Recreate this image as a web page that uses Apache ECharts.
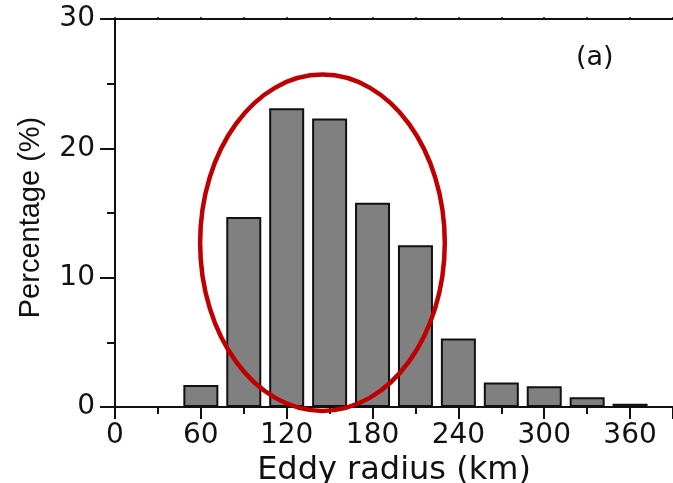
<!DOCTYPE html>
<html>
<head>
<meta charset="utf-8">
<script src="https://cdn.jsdelivr.net/npm/echarts@6/dist/echarts.min.js"></script>
<style>
html,body{margin:0;padding:0;background:#fff;}
#chart{width:673px;height:483px;}
</style>
</head>
<body>
<div id="chart"></div>
<script>
// Bin centres (km) and percentages
var radiusBins = [60, 90, 120, 150, 180, 210, 240, 270, 300, 330, 360];
var percentages = [1.7, 14.7, 23.1, 22.3, 15.8, 12.5, 5.3, 1.9, 1.6, 0.75, 0.25];
var xTickValues = [0, 60, 120, 180, 240, 300, 360];
var yTickValues = [0, 10, 20, 30];
// Highlight ellipse: centre (km, %) and radii (km, %)
var ellipseCentre = [145, 12.7];
var ellipseRadii = [85.5, 13.0];
var panelLabel = '(a)';
var xName = 'Eddy radius (km)';
var yName = 'Percentage (%)';

var barData = radiusBins.map(function (r, i) { return [r, percentages[i]]; });

var chart = echarts.init(document.getElementById('chart'), null, {renderer: 'canvas'});
var tickFont = 'DejaVu Sans';
var ink = '#111';

chart.setOption({
  animation: false,
  backgroundColor: '#fff',
  title: {
    text: panelLabel,
    left: 571,
    top: 39,
    textStyle: {fontFamily: tickFont, fontSize: 27, fontWeight: 'normal', color: ink}
  },
  grid: {left: 115, right: 0, top: 19, bottom: 76, containLabel: false, outerBoundsMode: 'none'},
  xAxis: [{
    type: 'value',
    position: 'bottom',
    min: 0, max: 390, interval: 60,
    name: xName,
    nameLocation: 'middle',
    nameGap: 47,
    nameTextStyle: {fontFamily: tickFont, fontSize: 32, color: ink},
    axisLine: {show: true, onZero: false, lineStyle: {color: ink, width: 2}},
    axisTick: {show: true, inside: false, length: 12, lineStyle: {color: ink, width: 2}},
    minorTick: {show: true, splitNumber: 2, length: 7, lineStyle: {color: ink, width: 2}},
    axisLabel: {show: true, margin: 15, showMaxLabel: false, fontFamily: tickFont, fontSize: 28, color: ink,
      formatter: function (v) { return xTickValues.indexOf(v) >= 0 ? String(v) : ''; }},
    splitLine: {show: false}
  }, {
    type: 'value',
    position: 'top',
    min: 0, max: 390, interval: 30,
    axisLine: {show: true, onZero: false, lineStyle: {color: ink, width: 2}},
    axisTick: {show: true, inside: false, length: 2, lineStyle: {color: ink, width: 1.5}},
    axisLabel: {show: false},
    splitLine: {show: false}
  }],
  yAxis: [{
    type: 'value',
    min: 0, max: 30, interval: 10,
    name: yName,
    nameLocation: 'middle',
    nameGap: 70,
    nameTextStyle: {fontFamily: 'Liberation Sans', fontSize: 29, color: ink, padding: [0, 9, 0, 0]},
    axisLine: {show: true, onZero: false, lineStyle: {color: ink, width: 2}},
    axisTick: {show: true, inside: false, length: 15, lineStyle: {color: ink, width: 2}},
    minorTick: {show: true, splitNumber: 2, length: 8, lineStyle: {color: ink, width: 2}},
    axisLabel: {show: true, margin: 20, fontFamily: tickFont, fontSize: 28, color: ink,
      formatter: function (v) { return yTickValues.indexOf(v) >= 0 ? String(v) : ''; }},
    splitLine: {show: false}
  }],
  series: [{
    type: 'bar',
    data: barData,
    xAxisIndex: 0,
    yAxisIndex: 0,
    barWidth: 35,
    itemStyle: {color: '#808080', borderColor: '#111', borderWidth: 2},
    emphasis: {disabled: true},
    z: 2
  }, {
    type: 'custom',
    xAxisIndex: 0,
    yAxisIndex: 0,
    clip: false,
    z: 5,
    data: [[ellipseCentre[0], ellipseCentre[1], ellipseRadii[0], ellipseRadii[1]]],
    renderItem: function (params, api) {
      var c = api.coord([api.value(0), api.value(1)]);
      var s = api.size([api.value(2), api.value(3)]);
      return {
        type: 'ellipse',
        shape: {cx: c[0], cy: c[1], rx: s[0], ry: s[1]},
        style: {fill: null, stroke: '#c00000', lineWidth: 4.5}
      };
    }
  }]
});
</script>
</body>
</html>
